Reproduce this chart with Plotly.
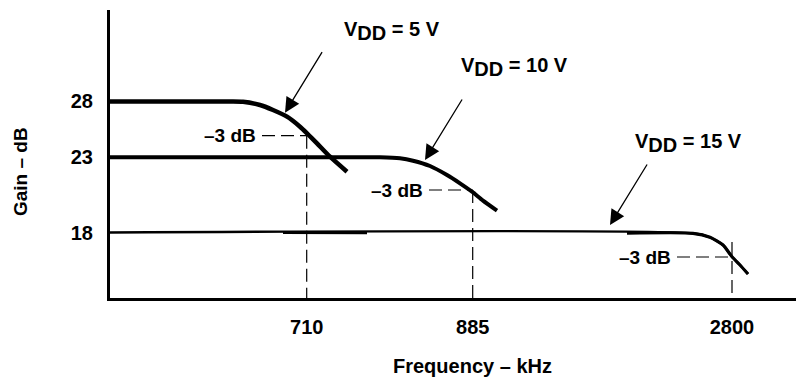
import plotly.graph_objects as go

# Schematic axes: the chart is a sketch, so tick labels sit at schematic positions
x_tick_pos = [196.7, 362.7, 622]
x_tick_labels = ["710", "885", "2800"]
y_tick_pos = [197, 141, 65]
y_tick_labels = ["28", "23", "18"]

# Gain curves (schematic x, schematic y)
v5_x = [-2, 120, 133, 150, 163, 177, 190, 197, 207, 220, 237]
v5_y = [196.5, 196.5, 196.2, 193, 188, 181.3, 171.3, 164.7, 154.7, 141.3, 126.3]

v10_x = [0, 270, 290, 303, 320, 337, 350, 362, 373, 387]
v10_y = [140.8, 140.7, 139.7, 137.3, 132, 123, 114.7, 106.3, 97.3, 87.3]

v15_x = [0, 583, 600, 613, 622, 630, 638]
v15_y = [65.5, 64.7, 60.7, 53, 41.3, 33, 24]

# -3 dB points
cut_x = [196.7, 362.7, 622]
cut_y = [162.3, 108, 41]
cut_top = [162.3, 108, 56]
cut_label_end = [152, 319, 567]

curve_labels = ["5 V", "10 V", "15 V"]

FONT = "Liberation Sans, Arial, sans-serif"
X0, XW = 110, 686   # plot area left / width in px (for paper coords of outside texts)
Y0, YH = 298, 288

fig = go.Figure()

# dashed -3 dB guides
for i in range(3):
    fig.add_trace(go.Scatter(x=[cut_label_end[i], cut_x[i]], y=[cut_y[i], cut_y[i]],
                             mode="lines", line=dict(color="black", width=1.2, dash="13px,6px"),
                             hoverinfo="skip", showlegend=False))
    fig.add_trace(go.Scatter(x=[cut_x[i], cut_x[i]], y=[cut_top[i], 0],
                             mode="lines", line=dict(color="black", width=1.2, dash="13px,6px"),
                             hoverinfo="skip", showlegend=False))

# curves
fig.add_trace(go.Scatter(x=v15_x, y=v15_y, mode="lines", line=dict(color="black", width=2.4, shape="spline", smoothing=0.6),
                         hoverinfo="skip", showlegend=False))
fig.add_trace(go.Scatter(x=[173, 257], y=[65.5, 65.4], mode="lines", line=dict(color="black", width=3.2),
                         hoverinfo="skip", showlegend=False))
fig.add_trace(go.Scatter(x=[517] + v15_x[1:], y=[64.8] + v15_y[1:], mode="lines",
                         line=dict(color="black", width=3.2, shape="spline", smoothing=0.6),
                         hoverinfo="skip", showlegend=False))
fig.add_trace(go.Scatter(x=v10_x, y=v10_y, mode="lines", line=dict(color="black", width=4, shape="spline", smoothing=0.6),
                         hoverinfo="skip", showlegend=False))
fig.add_trace(go.Scatter(x=v5_x, y=v5_y, mode="lines", line=dict(color="black", width=4.5, shape="spline", smoothing=0.6),
                         hoverinfo="skip", showlegend=False))

annotations = []
# -3 dB labels
for i in range(3):
    annotations.append(dict(x=cut_label_end[i] - 4, y=cut_y[i], xref="x", yref="y", text="–3 dB",
                            showarrow=False, xanchor="right", yanchor="middle",
                            font=dict(family=FONT, size=19, color="black", weight="bold")))

# VDD labels and arrows
label_x = [392, 514, 688]
label_y = [31, 67, 143]
tip_x = [175, 315, 500]
tip_y = [185.3, 138, 73]
for i in range(3):
    annotations.append(dict(x=label_x[i] - X0, y=Y0 - label_y[i], xref="x", yref="y",
                            text="V<sub><span style='font-size:20px'>DD</span></sub> = " + curve_labels[i],
                            showarrow=False, xanchor="center", yanchor="middle",
                            font=dict(family=FONT, size=20, color="black", weight="bold")))
    annotations.append(dict(x=tip_x[i], y=tip_y[i], xref="x", yref="y", text="",
                            showarrow=True, arrowhead=2, arrowsize=2.3, arrowwidth=1.3,
                            arrowcolor="black", ax=38, ay=-62, standoff=0))

# axis titles (paper coordinates so they are drawn outside the plot area)
annotations.append(dict(x=(20 - X0) / XW, y=(Y0 - 172) / YH, xref="paper", yref="paper", text="Gain – dB",
                        showarrow=False, textangle=-90, xanchor="center", yanchor="middle",
                        font=dict(family=FONT, size=19, color="black", weight="bold")))
annotations.append(dict(x=(472 - X0) / XW, y=(Y0 - 366) / YH, xref="paper", yref="paper", text="Frequency – kHz",
                        showarrow=False, xanchor="center", yanchor="middle",
                        font=dict(family=FONT, size=20, color="black", weight="bold")))

fig.update_layout(
    width=799, height=377,
    margin=dict(l=110, r=3, t=10, b=79),
    plot_bgcolor="white", paper_bgcolor="white",
    annotations=annotations,
    xaxis=dict(range=[0, 686], showline=True, linewidth=3, linecolor="black", mirror=False,
               showgrid=False, zeroline=False, tickvals=x_tick_pos, ticktext=x_tick_labels,
               ticks="outside", ticklen=9, tickcolor="rgba(0,0,0,0)",
               tickfont=dict(family=FONT, size=20, color="black", weight="bold")),
    yaxis=dict(range=[0, 288], showline=True, linewidth=3, linecolor="black",
               showgrid=False, zeroline=False, tickvals=y_tick_pos, ticktext=y_tick_labels,
               ticks="outside", ticklen=10, tickcolor="rgba(0,0,0,0)",
               tickfont=dict(family=FONT, size=20, color="black", weight="bold")),
)

fig.write_html("out.html")
